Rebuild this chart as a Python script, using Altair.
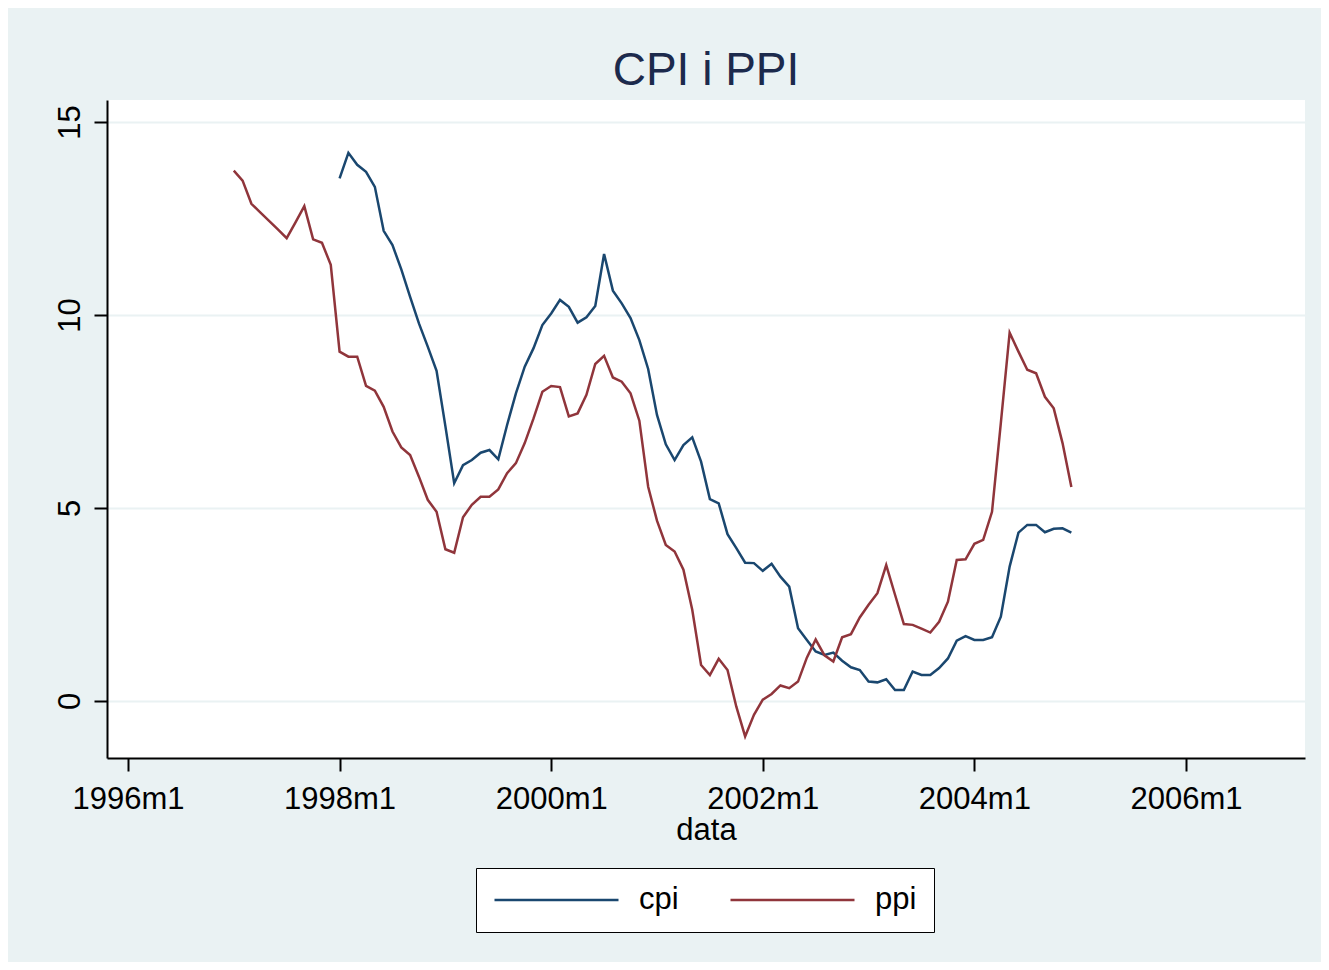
import altair as alt
import pandas as pd

# ---- data ----
series_names = ["cpi", "ppi"]
series_colors = ["#1A476F", "#90353B"]

cpi_start = "1998m1"
cpi_values = [
    13.54, 14.20, 13.89, 13.71, 13.32, 12.18, 11.81, 11.18, 10.47, 9.78, 9.18, 8.55,
    7.12, 5.64, 6.11, 6.24, 6.43, 6.50, 6.26, 7.15, 7.97, 8.66, 9.14, 9.74,
    10.04, 10.39, 10.21, 9.80, 9.94, 10.23, 11.58, 10.63, 10.30, 9.92, 9.35, 8.60,
    7.41, 6.65, 6.24, 6.63, 6.83, 6.20, 5.23, 5.12, 4.32, 3.96, 3.58, 3.57,
    3.37, 3.55, 3.22, 2.96, 1.88, 1.58, 1.28, 1.19, 1.25, 1.04, 0.87, 0.80,
    0.50, 0.48, 0.56, 0.28, 0.28, 0.76, 0.67, 0.67, 0.85, 1.10, 1.56, 1.68,
    1.58, 1.58, 1.65, 2.18, 3.48, 4.36, 4.56, 4.56, 4.37, 4.46, 4.47, 4.36,
]

ppi_start = "1997m1"
ppi_values = [
    13.74, 13.48, 12.88, 12.66, 12.44, 12.22, 11.99, 12.40, 12.82, 11.96, 11.87, 11.30,
    9.05, 8.92, 8.92, 8.16, 8.04, 7.62, 6.98, 6.57, 6.37, 5.81, 5.21, 4.90,
    3.93, 3.84, 4.76, 5.08, 5.29, 5.29, 5.48, 5.90, 6.16, 6.68, 7.32, 8.01,
    8.16, 8.13, 7.37, 7.45, 7.93, 8.73, 8.94, 8.38, 8.27, 7.97, 7.26, 5.55,
    4.67, 4.04, 3.87, 3.40, 2.36, 0.93, 0.67, 1.09, 0.80, -0.15, -0.92, -0.36,
    0.03, 0.18, 0.40, 0.33, 0.50, 1.12, 1.59, 1.18, 1.02, 1.65, 1.73, 2.16,
    2.49, 2.79, 3.52, 2.75, 1.99, 1.97, 1.87, 1.77, 2.05, 2.57, 3.65, 3.67,
    4.07, 4.17, 4.90, 7.20, 9.54, 9.05, 8.58, 8.49, 7.88, 7.58, 6.68, 5.54,
]

x_tick_labels = ["1996m1", "1998m1", "2000m1", "2002m1", "2004m1", "2006m1"]
y_ticks = [0, 5, 10, 15]

BASE_YEAR = 1996


def month_index(label):
    y, m = label.split("m")
    return (int(y) - BASE_YEAR) * 12 + int(m) - 1


rows = []
for name, start, vals in [("cpi", cpi_start, cpi_values), ("ppi", ppi_start, ppi_values)]:
    s = month_index(start)
    for i, v in enumerate(vals):
        rows.append({"m": s + i, "value": v, "series": name})
df = pd.DataFrame(rows)

x_tick_values = [month_index(t) for t in x_tick_labels]

FONT = "Liberation Sans"
BG = "#EAF2F3"

chart = (
    alt.Chart(df)
    .mark_line(strokeWidth=2.5)
    .encode(
        x=alt.X(
            "m:Q",
            scale=alt.Scale(domain=[-2.38, 133.5], nice=False, zero=False),
            axis=alt.Axis(
                values=x_tick_values,
                labelExpr="floor(1996 + datum.value / 12) + 'm1'",
                title="data",
                grid=False,
                domainColor="black",
                domainWidth=2,
                tickColor="black",
                tickWidth=2,
                tickSize=13,
                labelFont=FONT,
                labelFontSize=31,
                labelColor="black",
                labelBaseline="top",
                labelPadding=13,
                labelFlush=False,
                titleFont=FONT,
                titleFontSize=31,
                titleFontWeight="normal",
                titleColor="black",
                titlePadding=1,
            ),
        ),
        y=alt.Y(
            "value:Q",
            scale=alt.Scale(domain=[-1.48, 15.57], nice=False, zero=False),
            axis=alt.Axis(
                values=y_ticks,
                title=None,
                grid=True,
                gridColor=BG,
                gridWidth=2,
                domainColor="black",
                domainWidth=2,
                tickColor="black",
                tickWidth=2,
                tickSize=13,
                labelFont=FONT,
                labelFontSize=31,
                labelColor="black",
                labelAngle=270,
                labelAlign="center",
                labelBaseline="alphabetic",
                labelPadding=15,
                labelFlush=False,
            ),
        ),
        color=alt.Color(
            "series:N",
            scale=alt.Scale(domain=series_names, range=series_colors),
            legend=alt.Legend(
                title=None,
                orient="none",
                legendX=369,
                legendY=768,
                direction="horizontal",
                symbolType="stroke",
                symbolSize=15376,
                symbolStrokeWidth=2.5,
                clipHeight=30,
                labelFont=FONT,
                labelFontSize=31,
                labelColor="black",
                labelOffset=19,
                columnPadding=50,
                padding=17,
                fillColor="white",
                strokeColor="black",
                cornerRadius=0,
            ),
        ),
    )
    .properties(
        width=1198,
        height=658,
        autosize=alt.AutoSizeParams(type="none"),
        padding={"left": 99, "top": 92, "right": 16, "bottom": 204},
        title=alt.TitleParams(
            "CPI i PPI",
            font=FONT,
            fontSize=46,
            fontWeight="normal",
            color="#1C2A4C",
            anchor="middle",
            frame="group",
            baseline="alphabetic",
            offset=-31,
        ),
    )
    .configure(background=BG)
    .configure_view(fill="white", strokeWidth=0)
)

chart.save("out.html", embed_options={"renderer": "svg", "actions": False})
